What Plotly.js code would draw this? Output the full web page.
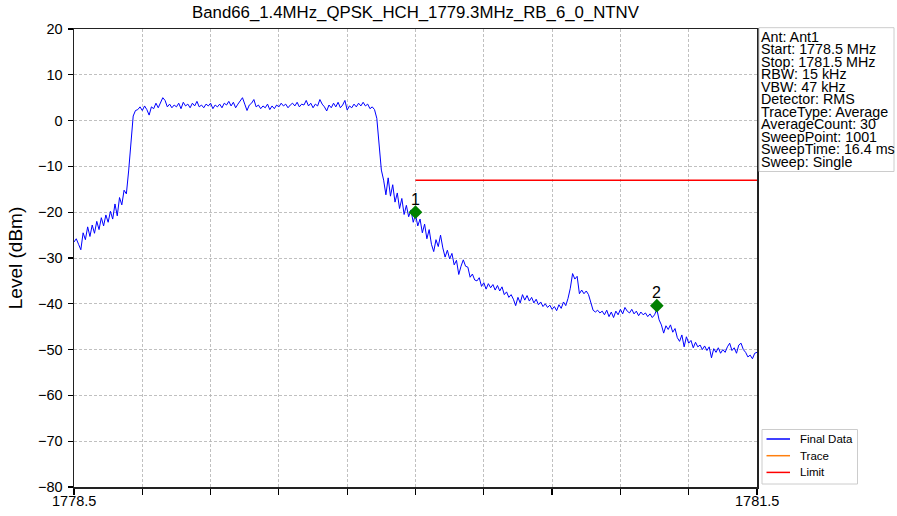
<!DOCTYPE html>
<html>
<head>
<meta charset="utf-8">
<script src="https://cdn.plot.ly/plotly-3.0.1.min.js"></script>
<style>html,body{margin:0;padding:0;background:#fff;}#chart{width:897px;height:516px;}</style>
</head>
<body>
<div id="chart"></div>
<script>
// Sweep definition
const startFreq = 1778.5;   // MHz
const stepFreq = 0.01;      // MHz between plotted points
// Final Data levels (dBm), 301 points from 1778.5 to 1781.5 MHz
const levels = [
  -26.5, -25.8, -27.0, -28.2, -24.5, -26.0, -23.2, -25.3, -22.8, -24.6,
  -22.0, -23.8, -21.2, -23.0, -20.6, -22.2, -19.8, -21.5, -18.2, -20.8,
  -16.8, -18.4, -15.2, -16.0, -11.0, -5.5, 1.0, 2.2, 2.4, 3.0,
  2.2, 3.2, 2.4, 1.2, 3.0, 2.6, 3.8, 2.8, 4.0, 5.0,
  4.4, 3.0, 3.6, 2.8, 3.4, 3.0, 3.8, 2.6, 4.0, 3.2,
  3.6, 2.8, 3.8, 3.2, 4.2, 3.0, 3.4, 2.8, 3.6, 3.2,
  3.8, 2.6, 3.4, 3.0, 3.6, 2.8, 3.8, 3.4, 4.2, 3.2,
  4.0, 2.8, 3.6, 4.2, 5.0, 3.6, 2.2, 3.4, 3.8, 4.6,
  3.0, 3.4, 2.6, 3.2, 2.8, 3.6, 2.4, 3.2, 2.6, 3.4,
  3.0, 3.8, 3.2, 3.6, 2.8, 3.4, 3.8, 3.2, 4.0, 3.0,
  3.6, 3.4, 4.4, 3.2, 3.8, 2.8, 3.6, 3.2, 4.6, 3.6,
  3.0, 2.1, 3.4, 2.8, 3.8, 3.0, 4.0, 2.8, 3.4, 4.4,
  2.3, 3.2, 2.8, 3.6, 3.0, 3.8, 3.2, 4.0, 3.2, 3.6,
  2.6, 3.0, 2.4, 0.5, -5.5, -10.8, -13.0, -16.2, -12.5, -16.5,
  -14.0, -17.8, -15.8, -19.2, -17.0, -20.5, -18.5, -21.0, -19.5, -22.2,
  -20.5, -23.0, -21.5, -24.5, -22.6, -25.8, -23.8, -27.0, -28.6, -26.0,
  -27.5, -25.0, -27.8, -29.8, -28.3, -30.2, -29.0, -31.5, -30.5, -33.6,
  -31.8, -30.4, -31.8, -32.0, -34.2, -33.5, -34.8, -35.0, -34.3, -36.2,
  -35.4, -36.8, -35.6, -36.5, -35.8, -37.0, -36.0, -37.2, -36.3, -38.0,
  -37.4, -38.6, -38.0, -39.0, -40.4, -38.6, -39.8, -38.0, -39.2, -38.2,
  -39.4, -38.6, -39.8, -39.0, -40.2, -39.6, -40.6, -40.0, -40.8, -40.3,
  -41.2, -40.6, -41.5, -40.2, -41.0, -39.6, -40.4, -38.8, -36.6, -33.4,
  -34.6, -34.0, -37.8, -37.0, -37.8, -37.2, -38.0, -40.0, -41.4, -41.8,
  -41.4, -42.0, -41.6, -42.4, -41.4, -42.8, -41.8, -43.0, -41.6, -42.4,
  -41.2, -42.2, -40.8, -41.6, -42.0, -41.2, -42.2, -41.6, -42.6, -41.8,
  -42.4, -42.0, -42.8, -42.2, -43.0, -42.4, -41.2, -43.5, -44.6, -46.4,
  -44.8, -45.6, -44.6, -46.2, -45.4, -47.4, -48.2, -46.8, -49.4, -47.2,
  -48.6, -48.0, -49.6, -48.4, -49.4, -49.0, -50.0, -49.2, -50.2, -49.4,
  -51.8, -49.8, -50.6, -49.6, -50.8, -50.0, -50.6, -49.4, -48.6, -50.2,
  -49.6, -50.8, -49.0, -48.6, -50.0, -50.6, -51.6, -51.2, -52.0, -50.8,
  -50.6
];
// Limit line
const limitX = [1780.0, 1781.5];
const limitY = [-13, -13];
// Markers
const markerX = [1780.0, 1781.06];
const markerY = [-20.0, -40.4];
const markerLabels = ["1", "2"];
// Axis ticks
const xTickVals = [1778.5, 1778.8, 1779.1, 1779.4, 1779.7, 1780.0, 1780.3, 1780.6, 1780.9, 1781.2, 1781.5];
const xTickText = ["1778.5", "", "", "", "", "", "", "", "", "", "1781.5"];
// Info box lines
const infoLines = ["Ant: Ant1", "Start: 1778.5 MHz", "Stop: 1781.5 MHz", "RBW: 15 kHz", "VBW: 47 kHz",
  "Detector: RMS", "TraceType: Average", "AverageCount: 30", "SweepPoint: 1001", "SweepTime: 16.4 ms", "Sweep: Single"];
// Legend entries
const legendNames = ["Final Data", "Trace", "Limit"];
const legendColors = ["#0000ff", "#ff7f0e", "#ff0000"];

const FONT = "Liberation Sans, Arial, sans-serif";
const plotL = 74, plotR = 757, plotT = 29, plotB = 487;
const W = plotR - plotL, H = plotB - plotT;
const px2x = p => (p - plotL) / W;
const py2y = p => (plotB - p) / H;

const traces = [
  {type: "scatter", mode: "lines", name: legendNames[0], x0: startFreq, dx: stepFreq, y: levels,
   line: {color: legendColors[0], width: 1}, showlegend: false},
  {type: "scatter", mode: "lines", name: legendNames[1], x: [startFreq], y: [null],
   line: {color: legendColors[1], width: 1.5}, showlegend: false},
  {type: "scatter", mode: "lines", name: legendNames[2], x: limitX, y: limitY,
   line: {color: legendColors[2], width: 1.5}, showlegend: false},
  {type: "scatter", mode: "markers", x: markerX, y: markerY,
   marker: {symbol: "diamond", size: 10.5, color: "#008000", line: {width: 0}},
   showlegend: false, hoverinfo: "skip"}
];

const annotations = infoLines.map((t, k) => ({
  xref: "paper", yref: "paper", x: px2x(760), y: py2y(36.7 + k * 12.5),
  xanchor: "left", yanchor: "middle", text: t, showarrow: false, borderpad: 0,
  font: {family: FONT, size: 14.3, color: "#000"}
}));
markerLabels.forEach((t, k) => annotations.push({
  xref: "x", yref: "y", x: markerX[k], y: markerY[k], yshift: 13,
  xanchor: "center", yanchor: "middle", text: t, showarrow: false, borderpad: 0,
  font: {family: FONT, size: 16, color: "#000"}
}));
xTickVals.forEach((v, k) => { if (xTickText[k]) annotations.push({
  xref: "x", yref: "paper", x: v, y: py2y(501.5),
  xanchor: "center", yanchor: "middle", text: xTickText[k], showarrow: false, borderpad: 0,
  font: {family: FONT, size: 14.5, color: "#000"}
}); });
legendNames.forEach((t, k) => annotations.push({
  xref: "paper", yref: "paper", x: px2x(799), y: py2y(439 + k * 16.7),
  xanchor: "left", yanchor: "middle", text: t, showarrow: false, borderpad: 0,
  font: {family: FONT, size: 11.5, color: "#000"}
}));

const shapes = [
  {type: "rect", xref: "paper", yref: "paper",
   x0: px2x(759), x1: px2x(894), y0: py2y(171.5), y1: py2y(27.7),
   line: {color: "#cccccc", width: 1}, fillcolor: "rgba(0,0,0,0)"},
  {type: "rect", xref: "paper", yref: "paper",
   x0: px2x(762), x1: px2x(857.5), y0: py2y(484), y1: py2y(429.5),
   line: {color: "#cccccc", width: 1}, fillcolor: "#fff"}
];
legendColors.forEach((c, k) => shapes.push({
  type: "line", xref: "paper", yref: "paper",
  x0: px2x(766.5), x1: px2x(790), y0: py2y(439 + k * 16.7), y1: py2y(439 + k * 16.7),
  line: {color: c, width: 1.5}
}));

const gridStyle = {showgrid: true, gridcolor: "#b0b0b0", gridwidth: 0.8, griddash: "3px,2px"};

const layout = {
  width: 897, height: 516,
  margin: {l: plotL, r: 897 - plotR, t: plotT, b: 516 - plotB, pad: 0},
  paper_bgcolor: "#fff", plot_bgcolor: "#fff",
  font: {family: FONT, size: 14, color: "#000"},
  title: {text: "Band66_1.4MHz_QPSK_HCH_1779.3MHz_RB_6_0_NTNV", x: 0.5, xref: "paper",
          y: 1 - 12 / 516, yref: "container", yanchor: "middle", xanchor: "center",
          font: {family: FONT, size: 16.8, color: "#000"}},
  xaxis: Object.assign({range: [1778.5, 1781.5], tickvals: xTickVals, showticklabels: false,
          ticks: "outside", ticklen: 6, tickwidth: 1.2, tickcolor: "#000",
          showline: true, linecolor: "#222", linewidth: 1.5, mirror: true,
          zeroline: false}, gridStyle),
  yaxis: Object.assign({range: [-80, 20], dtick: 10, tick0: 0,
          ticks: "outside", ticklen: 5, tickwidth: 1.2, tickcolor: "#000", ticklabelstandoff: 2,
          showline: true, linecolor: "#222", linewidth: 1.5, mirror: true,
          zeroline: false, tickfont: {family: FONT, size: 14.5, color: "#000"},
          title: {text: "Level (dBm)", font: {family: FONT, size: 19, color: "#000"}, standoff: 10}}, gridStyle),
  showlegend: false,
  annotations: annotations,
  shapes: shapes
};

Plotly.newPlot("chart", traces, layout, {displayModeBar: false, staticPlot: true});
</script>
</body>
</html>
